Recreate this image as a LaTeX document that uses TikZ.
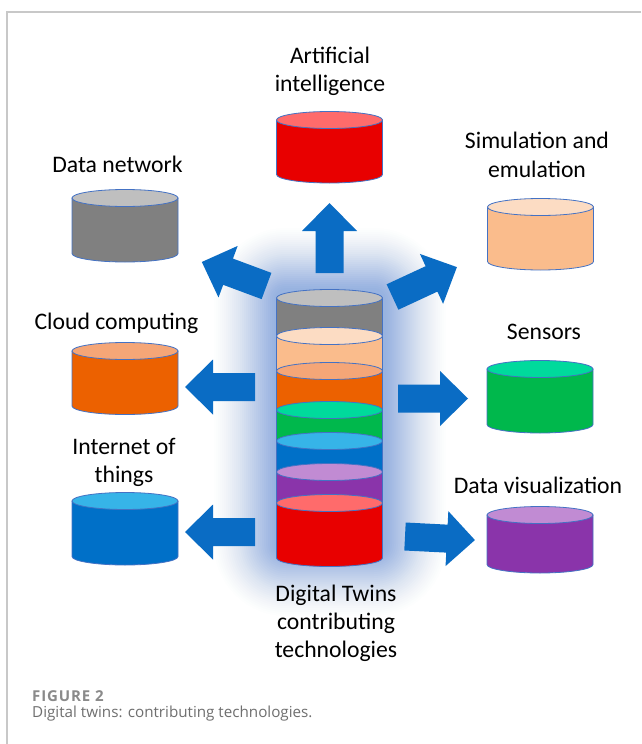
\documentclass[tikz,border=0pt]{standalone}
\usepackage{fontspec}
\setmainfont{Carlito}
\newfontfamily\capfont{Open Sans}
\newfontfamily\capfontsp[LetterSpace=6]{Open Sans}
\definecolor{framegray}{HTML}{C8C8C8}
\definecolor{arrowblue}{HTML}{0A6CC4}
\definecolor{glowblue}{HTML}{5286CE}
\definecolor{cylborder}{HTML}{4472C4}
\definecolor{grayTop}{HTML}{BFBFBF}
\definecolor{grayBody}{HTML}{808080}
\definecolor{peachTop}{HTML}{FCDCC3}
\definecolor{peachBody}{HTML}{FABC8C}
\definecolor{orangeTop}{HTML}{F5A677}
\definecolor{orangeBody}{HTML}{EC6100}
\definecolor{greenTop}{HTML}{00DA9C}
\definecolor{greenBody}{HTML}{00B84C}
\definecolor{blueTop}{HTML}{36B4E8}
\definecolor{blueBody}{HTML}{0070C8}
\definecolor{purpleTop}{HTML}{C18BD3}
\definecolor{purpleBody}{HTML}{8A34AA}
\definecolor{redTop}{HTML}{FF6B6B}
\definecolor{redBody}{HTML}{E80000}
\definecolor{capgray}{HTML}{6F6F6F}
\definecolor{capgrayb}{HTML}{8A8A8A}
\newcommand{\dtcyl}[5]{%
  \filldraw[cylline, fill=#5] (#1-53,#2) -- (#1-53,#3)
     arc[start angle=180, end angle=360, x radius=53pt, y radius=8.5pt]
     -- (#1+53,#2) -- cycle;
  \filldraw[cylline, fill=#4] (#1,#2) ellipse [x radius=53pt, y radius=8.5pt];
}
\newcommand{\dtarrow}[4]{% tail x, tail y, visual angle, length
  \fill[blockarrow, shift={(#1,#2)}, rotate=#3]
    (0pt,-14pt) -- ({#4pt-28pt},-14pt) -- ({#4pt-28pt},-27.5pt) -- (#4pt,0pt)
    -- ({#4pt-28pt},27.5pt) -- ({#4pt-28pt},14pt) -- (0pt,14pt) -- cycle;
}
\begin{document}
\begin{tikzpicture}[x=1pt,y=-1pt,
  lbl/.style={font=\fontsize{23.7}{28.5}\selectfont, text=black, anchor=base, inner sep=0pt},
  blockarrow/.style={fill=arrowblue, draw=none},
  cylline/.style={draw=cylborder, line width=0.8pt},
  caplbl/.style={anchor=base west, inner sep=0pt}]
\useasboundingbox (0,0) rectangle (641,744);
\fill[white] (0,0) rectangle (641,744);
\draw[framegray, line width=1.2pt] (641,12) -- (7,12) -- (7,744);

% glow behind the central stack
\foreach \i in {0,...,30} {
  \pgfmathsetmacro{\rr}{max(6,72-2*\i)}
  \pgfmathsetmacro{\op}{0.008+0.0011*\i}
  \fill[glowblue, fill opacity=\op, rounded corners=\rr pt]
    (214+2*\i,228+2*\i) rectangle (446-2*\i,616-2*\i);
}

% block arrows
\dtarrow{329.5}{273}{90}{70}
\dtarrow{266.5}{286}{159.6}{69}
\dtarrow{392.5}{297}{24.9}{71}
\dtarrow{255}{387}{180}{70}
\dtarrow{255}{532}{180}{70}
\dtarrow{398}{398.5}{0}{70}
\dtarrow{405}{536.5}{-2.9}{70}

% outer cylinders
\dtcyl{329.5}{120}{174.5}{redTop}{redBody}
\dtcyl{125}{198}{253.5}{grayTop}{grayBody}
\dtcyl{540.5}{207}{261.5}{peachTop}{peachBody}
\dtcyl{125}{351}{406}{orangeTop}{orangeBody}
\dtcyl{540}{369}{424.5}{greenTop}{greenBody}
\dtcyl{125}{501}{556.5}{blueTop}{blueBody}
\dtcyl{540}{515}{564.5}{purpleTop}{purpleBody}

% central stack (top to bottom)
\dtcyl{329.5}{298}{336}{grayTop}{grayBody}
\dtcyl{329.5}{336}{371}{peachTop}{peachBody}
\dtcyl{329.5}{371}{410}{orangeTop}{orangeBody}
\dtcyl{329.5}{410}{441}{greenTop}{greenBody}
\dtcyl{329.5}{441}{472}{blueTop}{blueBody}
\dtcyl{329.5}{472}{503}{purpleTop}{purpleBody}
\dtcyl{329.5}{503}{558}{redTop}{redBody}

% labels
\node[lbl] (ai1) at (330,63) {Artificial};
\node[lbl] (ai2) at (330,91) {intelligence};
\node[lbl] (dn) at (117.5,172) {Data network};
\node[lbl] (sim1) at (537,148.5) {Simulation and};
\node[lbl] (sim2) at (537,177) {emulation};
\node[lbl] (cc) at (116.5,329.5) {Cloud computing};
\node[lbl] (iot1) at (124,454) {Internet of};
\node[lbl] (iot2) at (124,482) {things};
\node[lbl] (sen) at (544,339.5) {Sensors};
\node[lbl] (dv) at (538,493.5) {Data visualization};
\node[lbl] (dt1) at (336,601) {Digital Twins};
\node[lbl] (dt2) at (336,629.5) {contributing};
\node[lbl] (dt3) at (336,657) {technologies};

% caption
\node[caplbl, text=capgrayb, text depth=0pt, font=\capfontsp\fontsize{15}{17}\selectfont\bfseries] (figno) at (32,701.5) {FIGURE 2};
\node[caplbl, text=capgray, text height=11pt, font=\capfont\fontsize{15.2}{17}\selectfont] (figcap) at (32,717) {Digital twins: contributing technologies.};
\end{tikzpicture}
\end{document}
